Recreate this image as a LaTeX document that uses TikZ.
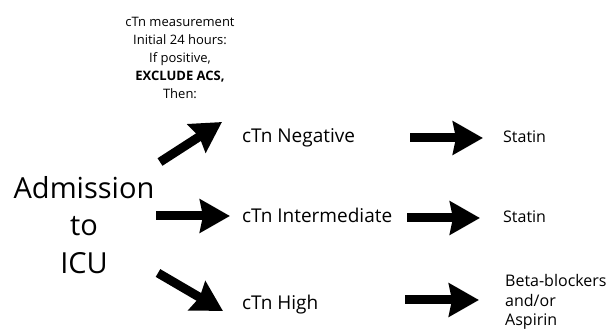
\documentclass[tikz,border=0pt]{standalone}
\usepackage{fontspec}
\setmainfont{Open Sans}
\usetikzlibrary{arrows.meta,positioning}

\begin{document}
\begin{tikzpicture}[x=1pt, y=-1pt,
fat/.style = {line width=9pt, -{Stealth[length=30pt, width=33pt, inset=3pt]}},
big/.style = {font=\fontsize{29}{37.5}\selectfont, align=center},
level/.style = {font=\fontsize{19}{23}\selectfont, anchor=base west, inner sep=0pt},
drug/.style = {font=\fontsize{16}{19.5}\selectfont, anchor=base west, align=left, inner sep=0pt},
note/.style = {font=\fontsize{13}{18}\selectfont, align=center, anchor=north, inner sep=0pt}
]
\useasboundingbox (0,0) rectangle (606,331);

    \node [note] (rule) at (180,17) {cTn measurement\\Initial 24 hours:\\If positive,\\\textbf{EXCLUDE ACS,}\\Then:};
    \node [big] (icu) at (84,225) {Admission\\to\\ICU};

    \node [level] (neg) at (242,143) {cTn Negative};
    \node [level] (mid) at (242,223) {cTn Intermediate};
    \node [level] (high) at (242,310) {cTn High};

    \node [drug] (st1) at (503,143) {Statin};
    \node [drug] (st2) at (503,223) {Statin};
    % base of a multi-line node is its last line
    \node [drug] (bb) at (505,326) {Beta-blockers\\and/or\\Aspirin};

    % arrow ends
    \coordinate (negtail) at (160,162);
    \coordinate (neghead) at (222,122);
    \coordinate (midtail) at (156,216);
    \coordinate (midhead) at (230,216);
    \coordinate (hightail) at (158,273);
    \coordinate (highhead) at (223,311);
    \coordinate (st1tail) at (410,138);
    \coordinate (st1head) at (483,138);
    \coordinate (st2tail) at (407,218);
    \coordinate (st2head) at (480,218);
    \coordinate (bbtail) at (405,300);
    \coordinate (bbhead) at (479,300);

    \draw [fat] (negtail) -- (neghead);
    \draw [fat] (midtail) -- (midhead);
    \draw [fat] (hightail) -- (highhead);

    \draw [fat] (st1tail) -- (st1head);
    \draw [fat] (st2tail) -- (st2head);
    \draw [fat] (bbtail) -- (bbhead);

\end{tikzpicture}
\end{document}
